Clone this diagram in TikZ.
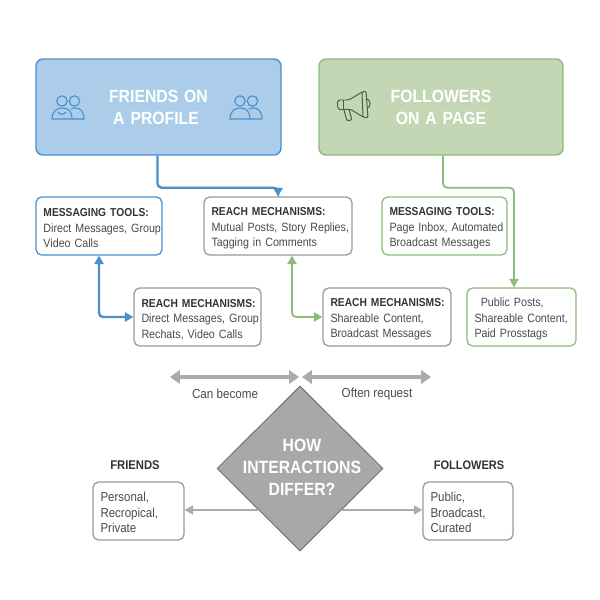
\documentclass[tikz,border=0pt]{standalone}
\usepackage{fontspec}
\setmainfont[FakeStretch=0.89]{Liberation Sans}
\usetikzlibrary{arrows.meta,shapes.geometric}

\definecolor{bluefill}{HTML}{ABCDE9}
\definecolor{blueline}{HTML}{4A90CF}
\definecolor{greenfill}{HTML}{C3D7B5}
\definecolor{greenline}{HTML}{8DBB7A}
\definecolor{greyline}{HTML}{999999}
\definecolor{greyarrow}{HTML}{ABABAB}
\definecolor{greyfill}{HTML}{A8A8A8}
\definecolor{inktext}{HTML}{333333}
\definecolor{bodytext}{HTML}{4A4A4A}
\definecolor{horndark}{HTML}{4C5A4C}

\newcommand{\topgap}{\rule{0pt}{9pt}}
\newcommand{\boxhead}[1]{\topgap\mbox{\textcolor{inktext}{\fontsize{8.2}{11}\selectfont\bfseries #1}}}

\tikzset{
    sized/.style 2 args={minimum width=#1*0.025cm, minimum height=#2*0.025cm, text width=(#1-15)*0.025cm},
    headbox/.style={draw, line width=1pt, rounded corners=5pt, inner xsep=0pt, inner ysep=0pt,
        align=center, text=white, font=\fontsize{12.6}{15.7}\selectfont\bfseries},
    infobox/.style={draw, line width=0.9pt, rounded corners=4pt, inner xsep=5.3pt, inner ysep=0pt,
        align=left, fill=white, text=bodytext, font=\fontsize{8.55}{11}\selectfont},
    caption/.style={text=bodytext, font=\fontsize{9.3}{11}\selectfont},
    bluearrow/.style={blueline, line width=1.7pt, rounded corners=3pt},
    greenarrow/.style={greenline, line width=1.3pt, rounded corners=3pt},
    widearrow/.style={greyarrow, line width=2.6pt, {Triangle[length=7pt,width=9.5pt]}-{Triangle[length=7pt,width=9.5pt]}},
    thinarrow/.style={greyarrow, line width=0.9pt, -{Triangle[length=6pt,width=6.5pt]}}
}

\begin{document}
\begin{tikzpicture}[x=0.025cm, y=-0.025cm]
    \useasboundingbox (0,0) rectangle (600,600);

    % top row
    \node[headbox, sized={245}{96}, fill=bluefill, draw=blueline] (friends) at (158.5,107) {FRIENDS ON\hspace*{3.5pt}\\A PROFILE\hspace*{3.5pt}};
    \node[headbox, sized={244}{96}, fill=greenfill, draw=greenline] (followers) at (441,107) {FOLLOWERS\\ON A PAGE};

    % people icons
    \foreach \ix in {0,178} {
        \begin{scope}[xshift=\ix*0.025cm, blueline, line width=0.8pt]
            \draw (62,101) circle [radius=0.13cm];
            \draw (74.5,101) circle [radius=0.13cm];
            \draw (52,119) .. controls (52,111) and (57,108) .. (62,108) .. controls (68,108) and (72,111) .. (72,119) -- cycle;
            \draw (71,109) .. controls (73,108) and (74,108) .. (75,108) .. controls (80,108) and (84,111) .. (84,119) -- (72,119);
        \end{scope}
    }
    \draw[blueline, line width=0.8pt] (58,112) .. controls (60,115) and (64,115) .. (66,112);

    % second row
    \node[infobox, sized={126}{58}, draw=blueline] (toolsA) at (99,226) {\boxhead{MESSAGING TOOLS:}\\\mbox{Direct Messages, Group}\\Video Calls};
    \node[infobox, sized={148}{58}, draw=greyline] (reachA) at (278,226) {\boxhead{REACH MECHANISMS:}\\\mbox{Mutual Posts, Story Replies,}\\Tagging in Comments};
    \node[infobox, sized={125}{58}, draw=greenline] (toolsB) at (444.5,226) {\boxhead{MESSAGING TOOLS:}\\\mbox{Page Inbox, Automated}\\Broadcast Messages};

    % third row
    \node[infobox, sized={127}{58}, draw=greyline] (reachB) at (197.5,317) {\boxhead{REACH MECHANISMS:}\\\mbox{Direct Messages, Group}\\Rechats, Video Calls};
    \node[infobox, sized={128}{58}, draw=greyline] (reachC) at (387,317) {\boxhead{REACH MECHANISMS:}\\Shareable Content,\\Broadcast Messages};
    \node[infobox, sized={109}{58}, draw=greenline] (posts) at (521.5,317) {\topgap\hspace*{4.5pt}Public Posts,\\\mbox{Shareable Content,}\\Paid Prosstags};

    % connectors
    \draw[bluearrow, -{Triangle[length=6pt,width=6.5pt]}] ([xshift=-1*0.025cm]friends.south) -- ++(0,32) -| (reachA.north);
    \draw[greenarrow, -{Triangle[length=6pt,width=6.5pt]}] ([xshift=2*0.025cm]followers.south) -- ++(0,32) -| ([xshift=-7.5*0.025cm]posts.north);
    \draw[bluearrow, {Triangle[length=6pt,width=6.5pt]}-{Triangle[length=6pt,width=6.5pt]}] (toolsA.south) |- (reachB.west);
    \draw[greenarrow, {Triangle[length=6pt,width=6.5pt]}-{Triangle[length=6pt,width=6.5pt]}] ([xshift=14*0.025cm]reachA.south) |- (reachC.west);

    % bottom part
    \coordinate (becomeL) at (170,377);
    \coordinate (becomeR) at (299,377);
    \coordinate (requestL) at (302,377);
    \coordinate (requestR) at (431,377);
    \draw[widearrow] (becomeL) -- (becomeR);
    \draw[widearrow] (requestL) -- (requestR);
    \node[caption] (become) at (225,394) {Can become};
    \node[caption] (request) at (377,394) {Often request};

    \node[diamond, draw=black!55, line width=0.7pt, fill=greyfill, minimum width=166*0.025cm, minimum height=165*0.025cm, inner sep=0pt, aspect=1] (differ) at (300,468.5) {};
    \node[text=white, align=center, font=\fontsize{12.6}{15.7}\selectfont\bfseries] (differtext) at (302,467) {HOW\\INTERACTIONS\\DIFFER?};

    \node[caption, text=inktext, font=\fontsize{9}{11}\selectfont\bfseries] (friendshead) at (135,465) {FRIENDS};
    \node[caption, text=inktext, font=\fontsize{8.8}{11}\selectfont\bfseries] (followershead) at (469,465) {FOLLOWERS};
    \node[infobox, sized={91}{58}, draw=greyline, font=\fontsize{9.2}{11}\selectfont] (friendsbox) at (138.5,511) {\topgap Personal,\\Recropical,\\Private};
    \node[infobox, sized={90}{58}, draw=greyline, font=\fontsize{9.2}{11}\selectfont] (followersbox) at (468,511) {\topgap Public,\\Broadcast,\\Curated};

    \draw[thinarrow] (differ.south west) -- (differ.south west -| friendsbox.east);
    \draw[thinarrow] (differ.south east) -- (differ.south east -| followersbox.west);

    % megaphone
    \begin{scope}[horndark, line width=0.7pt, line join=round]
        \draw[rounded corners=1.5pt] (337,105) -- (338,100) -- (349,100) -- (362,92) -- (366,91) -- (368,118) -- (363,117) -- (350,109) -- (339,110) -- cycle;
        \draw (362,92) -- (363,117);
        \draw (343,100) -- (343,110);
        \draw (367,99) .. controls (371,100) and (371,107) .. (367.5,108);
        \draw[rounded corners=1.5pt] (344,110) -- (347,121) -- (352,120) -- (349,109.5);
    \end{scope}
\end{tikzpicture}
\end{document}
